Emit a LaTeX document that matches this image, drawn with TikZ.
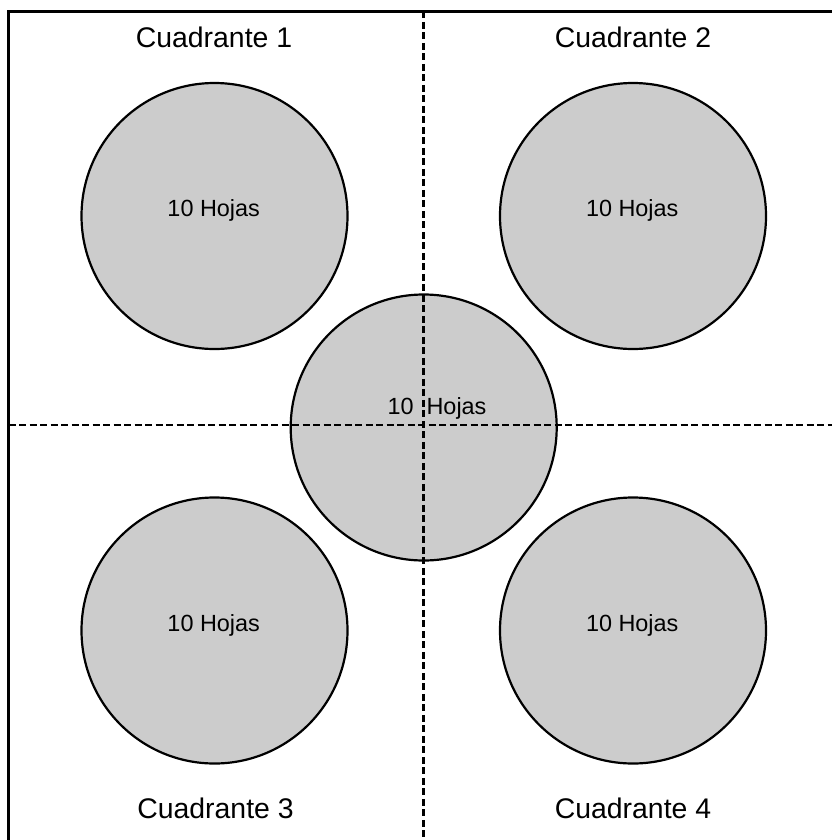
\documentclass[tikz,border=0pt]{standalone}
\usepackage{fontspec}
\setmainfont{Liberation Sans}
\usetikzlibrary{positioning}

\begin{document}
\begin{tikzpicture}[x=1bp, y=-1bp,
hoja/.style={
		circle,
		draw=black,
		line width=2.2bp,
		fill=black!20,
		minimum size=266bp,
		inner sep=0pt,
		},
cuadrante/.style={anchor=base, font=\fontsize{28.5}{34}\selectfont},
etiqueta/.style={anchor=base, font=\fontsize{23.5}{28}\selectfont},
division/.style={line width=2.4bp, dash pattern=on 7bp off 3.5bp}
]

\def \ancho {832}
\def \alto {840}
\def \xmed {423.3}
\def \ymed {425}

\useasboundingbox (0,0) rectangle (\ancho,\alto);

% marco exterior (se sale por la derecha y por abajo)
\draw[line width=2.8bp] (8.7,11.3) rectangle (850,855);

% las cinco hojas
\foreach \s/\x/\y in {1/214.5/216, 2/633/216, 3/214.5/630.5, 4/633/630.5, 0/423.7/427.5}
{
  \node[hoja] (hoja\s) at (\x,\y) {};
}

% divisiones de los cuadrantes
\coordinate (arriba) at (\xmed,11.3);
\coordinate (abajo) at (\xmed,855);
\coordinate (izq) at (8.7,\ymed);
\coordinate (der) at (850,\ymed);
\draw[division] (arriba) -- (abajo);
\draw[division] (izq) -- (der);

\foreach \s in {1,...,4}
{
  \node[etiqueta] (texto\s) at ([xshift=-0.8bp, yshift=-0.7bp]hoja\s.center) {10 Hojas};
}
\node[etiqueta] (texto0) at ([xshift=13.3bp, yshift=13.5bp]hoja0.center) {10 \ Hojas};

\node[cuadrante] (cuad1) at (214,47.7) {Cuadrante 1};
\node[cuadrante] (cuad2) at (633,47.7) {Cuadrante 2};
\node[cuadrante] (cuad3) at (215.5,818) {Cuadrante 3};
\node[cuadrante] (cuad4) at (633,818) {Cuadrante 4};
\end{tikzpicture}
\end{document}
